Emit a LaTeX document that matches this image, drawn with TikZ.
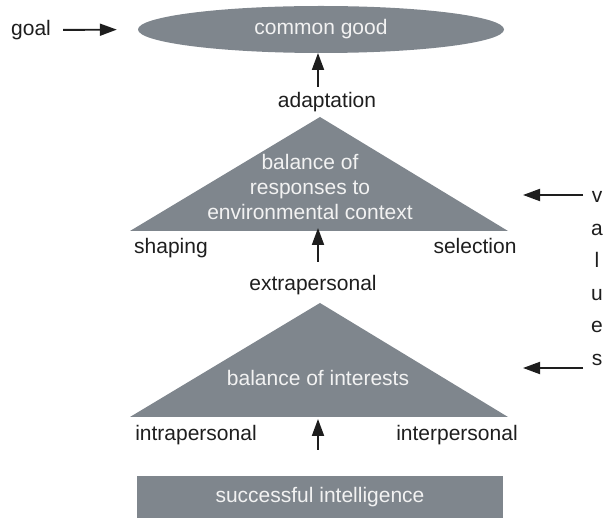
\documentclass[tikz,border=0pt]{standalone}
\usepackage{fontspec}
\setmainfont{Liberation Sans}
\usetikzlibrary{arrows.meta,positioning,calc,shapes.geometric}
\definecolor{ShapeGray}{HTML}{7F868D}
\definecolor{LabelInk}{HTML}{1E1E1E}
\definecolor{ShapeText}{HTML}{F2F2F2}

\begin{document}
\begin{tikzpicture}[x=1pt, y=-1pt,
    lbl/.style={text=LabelInk, font=\fontsize{21}{25}\selectfont,
      text height=15pt, text depth=4pt, inner sep=0pt},
    intext/.style={text=ShapeText, font=\fontsize{21}{25}\selectfont, align=center},
    arr/.style={-{Triangle[length=17pt,width=12pt]}, line width=1.9pt, color=LabelInk}
  ]
    \useasboundingbox (0,0) rectangle (606,518);
    % shapes
    \node[ellipse, fill=ShapeGray, minimum width=366pt, minimum height=47pt, inner sep=0pt,
      intext, text height=15pt, text depth=4pt] (common) at (321,29.5) {common good};
    \fill[ShapeGray] (320,117) coordinate (uapex) -- (508,231) coordinate (uright)
      -- (130,231) coordinate (uleft) -- cycle;
    \fill[ShapeGray] (320,303) coordinate (lapex) -- (508,417) coordinate (lright)
      -- (130,417) coordinate (lleft) -- cycle;
    \node[intext] (uinner) at (310,187) {balance of\\responses to\\environmental context};
    \node[intext, text height=15pt, text depth=4pt] (linner) at (318,380) {balance of interests};
    \node[fill=ShapeGray, minimum width=366pt, minimum height=42pt, inner sep=0pt,
      intext, text height=15pt, text depth=4pt] (success) at (320,497) {successful intelligence};
    % labels
    \node[lbl] (goal) at (31,30) {goal};
    \node[lbl] (adapt) at (327,102) {adaptation};
    \node[lbl] (shaping) at (171,248) {shaping};
    \node[lbl] (selection) at (475,248) {selection};
    \node[lbl] (extra) at (313,285) {extrapersonal};
    \node[lbl] (intra) at (196,435) {intrapersonal};
    \node[lbl] (inter) at (457,435) {interpersonal};
    \node[text=LabelInk, font=\fontsize{21}{32.6}\selectfont, align=center, inner sep=0pt]
      (vals) at (597,278.5) {v\\a\\l\\u\\e\\s};
    % arrow ends
    \coordinate (atarget) at (318,53);
    \coordinate (utarget) at (318,228);
    \coordinate (ltarget) at (318,419);
    \coordinate (vhi) at (583,195);
    \coordinate (vhitip) at (523,195);
    \coordinate (vlo) at (583,368);
    \coordinate (vlotip) at (523,368);
    % arrows
    \draw[arr, shorten <=12pt, shorten >=21pt] (goal.east) -- (common.west);
    \draw[arr, shorten <=5.5pt] (adapt.north -| atarget) -- (atarget);
    \draw[arr, shorten <=13.5pt] (extra.north -| utarget) -- (utarget);
    \draw[arr, shorten <=26pt] (success.north -| ltarget) -- (ltarget);
    \draw[arr] (vhi) -- (vhitip);
    \draw[arr] (vlo) -- (vlotip);
\end{tikzpicture}
\end{document}
